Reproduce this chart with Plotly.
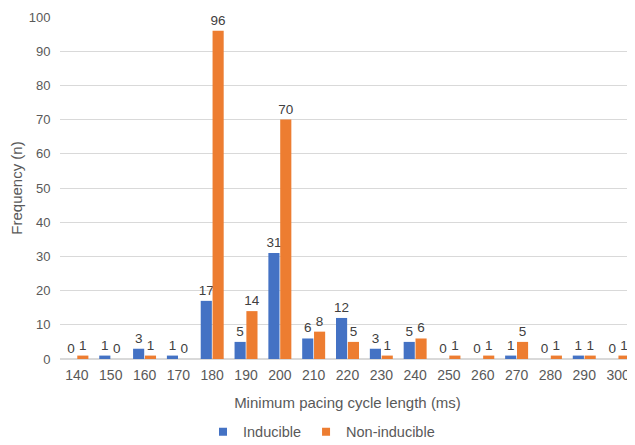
import plotly.graph_objects as go

categories = ["140", "150", "160", "170", "180", "190", "200", "210", "220",
              "230", "240", "250", "260", "270", "280", "290", "300"]
inducible = [0, 1, 3, 1, 17, 5, 31, 6, 12, 3, 5, 0, 0, 1, 0, 1, 0]
non_inducible = [1, 0, 1, 0, 96, 14, 70, 8, 5, 1, 6, 1, 1, 5, 1, 1, 1]
series_names = ["Inducible", "Non-inducible"]
series_colors = ["#4472C4", "#ED7D31"]

FONT = "Liberation Sans, Arial, sans-serif"

fig = go.Figure()
for name, vals, col in zip(series_names, [inducible, non_inducible], series_colors):
    fig.add_trace(go.Bar(
        x=categories, y=vals, name=name, showlegend=False,
        marker=dict(color=col, line=dict(width=0)),
        text=[str(v) for v in vals], textposition="outside",
        textfont=dict(size=13.5, color="#404040", family=FONT),
        constraintext="none", cliponaxis=False,
    ))
# legend entries with small square swatches
for name, col in zip(series_names, series_colors):
    fig.add_trace(go.Scatter(
        x=[None], y=[None], mode="markers", name=name,
        marker=dict(symbol="square", size=8, color=col),
    ))

# page body has an 8px default margin, so the figure is sized to fit the window
fig.update_layout(
    width=627, height=437,
    margin=dict(l=52, r=0, t=9, b=86, autoexpand=False),
    paper_bgcolor="white", plot_bgcolor="white",
    barmode="group", bargap=0.3, bargroupgap=0.06,
    font=dict(family=FONT, color="#595959", size=12),
    showlegend=True,
    legend=dict(orientation="h", x=0.5, xanchor="center", xref="container",
                y=-0.213, yanchor="middle", yref="paper",
                font=dict(size=14.5, color="#595959"), itemwidth=30,
                tracegroupgap=0),
    xaxis=dict(
        type="category", automargin=False,
        title=dict(text="Minimum pacing cycle length (ms)", font=dict(size=15, color="#595959")),
        tickfont=dict(size=14, color="#595959"),
        showgrid=False, showline=True, linecolor="#D9D9D9", linewidth=1,
        ticks="outside", ticklen=3, tickcolor="rgba(0,0,0,0)",
    ),
    yaxis=dict(
        range=[0, 100], dtick=10, automargin=False,
        title=dict(text="Frequency (n)", font=dict(size=15, color="#595959")),
        tickfont=dict(size=13, color="#595959"),
        showgrid=True, gridcolor="#D9D9D9", gridwidth=1,
        zeroline=True, zerolinecolor="#D9D9D9",
        ticks="outside", ticklen=6, tickcolor="rgba(0,0,0,0)",
    ),
)

fig.write_html("out.html")
